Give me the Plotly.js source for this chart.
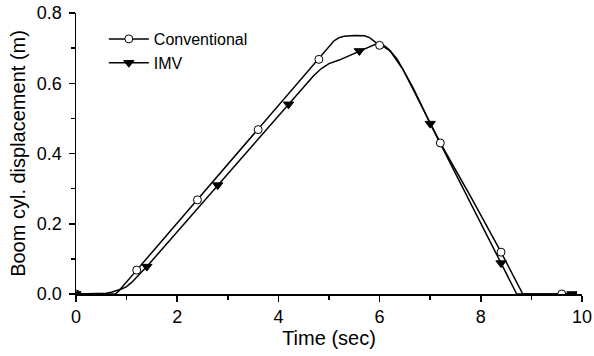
<!DOCTYPE html>
<html>
<head>
<meta charset="utf-8">
<script src="https://cdn.plot.ly/plotly-3.0.1.min.js"></script>
<style>
  html, body { margin: 0; padding: 0; background: #fff; }
  #chart { width: 594px; height: 356px; }
</style>
</head>
<body>
<div id="chart"></div>
<script>
// Conventional: continuous response curve
const convTime = [0, 0.78, 0.85, 0.9, 1.2, 2.4, 3.6, 4.8, 5.05, 5.1, 5.2, 5.3, 5.5, 5.7, 5.8, 5.9, 6.0, 6.1, 6.21, 6.35, 6.47, 6.67, 7.2, 7.8, 8.4, 8.83, 9.9];
const convDisp = [0, 0, 0.009, 0.018, 0.068, 0.268, 0.468, 0.668, 0.712, 0.721, 0.73, 0.734, 0.736, 0.735, 0.73, 0.72, 0.708, 0.702, 0.692, 0.668, 0.637, 0.58, 0.43, 0.277, 0.119, 0, 0];
// IMV: continuous response curve
const imvTime = [0, 0.5, 0.6, 0.7, 0.8, 0.9, 1.0, 1.1, 1.4, 2.8, 4.2, 4.7, 4.85, 5.0, 5.2, 5.6, 5.8, 5.95, 6.1, 6.2, 6.45, 6.67, 7.0, 7.7, 8.4, 8.71, 9.9];
const imvDisp = [0, 0, 0.002, 0.005, 0.009, 0.014, 0.021, 0.033, 0.078, 0.31, 0.54, 0.622, 0.642, 0.656, 0.666, 0.692, 0.704, 0.713, 0.706, 0.694, 0.642, 0.585, 0.485, 0.286, 0.088, 0, 0];
// Marker samples
const convMarkTime = [0, 1.2, 2.4, 3.6, 4.8, 6.0, 7.2, 8.4, 9.6];
const convMarkDisp = [0, 0.068, 0.268, 0.468, 0.668, 0.708, 0.43, 0.119, 0];
const imvMarkTime = [0, 1.4, 2.8, 4.2, 5.6, 7.0, 8.4, 9.8];
const imvMarkDisp = [0, 0.078, 0.31, 0.54, 0.692, 0.485, 0.088, 0];
// Labels
const seriesNames = ['Conventional', 'IMV'];
const xTitle = 'Time (sec)';
const yTitle = 'Boom cyl. displacement (m)';

const FONT = 'Liberation Sans, Arial, Helvetica, sans-serif';
const lineStyle = {color: '#000', width: 1.5};
const circleMarker = {symbol: 'circle', size: 8, color: '#fff', line: {color: '#000', width: 1}};
const triMarker = {symbol: 'triangle-down', size: 9, color: '#000', line: {color: '#000', width: 1}};

const traces = [
  {x: convTime, y: convDisp, mode: 'lines', line: lineStyle, showlegend: false, hoverinfo: 'skip'},
  {x: imvTime, y: imvDisp, mode: 'lines', line: lineStyle, showlegend: false, hoverinfo: 'skip'},
  {x: convMarkTime, y: convMarkDisp, mode: 'markers', marker: circleMarker, showlegend: false},
  {x: imvMarkTime, y: imvMarkDisp, mode: 'markers', marker: triMarker, showlegend: false},
  {x: [null], y: [null], mode: 'lines+markers', name: seriesNames[0], line: lineStyle, marker: circleMarker},
  {x: [null], y: [null], mode: 'lines+markers', name: seriesNames[1], line: lineStyle, marker: triMarker}
];

const axisCommon = {
  showline: true, linecolor: '#000', linewidth: 1.5,
  ticks: 'outside', ticklen: 6, tickwidth: 1.5, tickcolor: '#000',
  showgrid: false, zeroline: false, mirror: false,
  tickfont: {family: FONT, size: 18, color: '#000'}
};

const layout = {
  width: 594, height: 356,
  margin: {l: 76, r: 12, t: 13, b: 62},
  paper_bgcolor: '#fff', plot_bgcolor: '#fff',
  font: {family: FONT, color: '#000'},
  xaxis: Object.assign({}, axisCommon, {
    range: [0, 10], tick0: 0, dtick: 2,
    minor: {dtick: 1, ticks: 'outside', ticklen: 4, tickwidth: 1.5, tickcolor: '#000', showgrid: false},
    title: {text: xTitle, font: {family: FONT, size: 20, color: '#000'}, standoff: 4}
  }),
  yaxis: Object.assign({}, axisCommon, {
    range: [0, 0.8], tick0: 0, dtick: 0.2, tickformat: '.1f',
    ticklabelstandoff: 3,
    minor: {dtick: 0.1, ticks: 'outside', ticklen: 4, tickwidth: 1.5, tickcolor: '#000', showgrid: false},
    title: {text: yTitle, font: {family: FONT, size: 20, color: '#000'}, standoff: 6}
  }),
  legend: {
    x: 0.055, y: 0.968, xanchor: 'left', yanchor: 'top',
    bgcolor: 'rgba(0,0,0,0)', borderwidth: 0,
    font: {family: FONT, size: 16, color: '#000'},
    itemwidth: 40
  },
  showlegend: true
};

Plotly.newPlot('chart', traces, layout, {staticPlot: true, displayModeBar: false});
</script>
</body>
</html>
